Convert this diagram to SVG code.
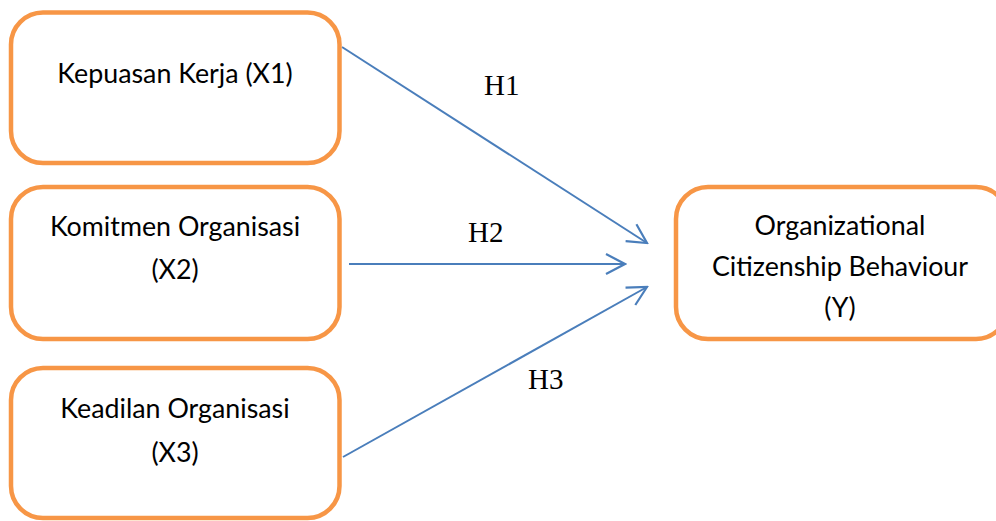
<svg xmlns="http://www.w3.org/2000/svg" width="996" height="521" viewBox="0 0 996 521">
<style>
.box{fill:#fff;stroke:#F79646;stroke-width:4.5}
.t{font-family:Lato,"Open Sans",sans-serif;font-size:26.8px;fill:#000;text-anchor:middle}
.h{font-family:"Liberation Serif","Times New Roman",serif;font-size:29px;fill:#000}
.c{stroke:#4A7EBB;stroke-width:2;fill:none}
</style>
<defs>
<marker id="arr" markerUnits="userSpaceOnUse" viewBox="-22 -12 24 24" markerWidth="24" markerHeight="24" refX="0" refY="0" orient="auto">
<path d="M-19,-10 L0,0 L-19,10" fill="none" stroke="#4A7EBB" stroke-width="2.2"/>
</marker>
</defs>
<g id="connectors">
<line class="c" x1="342" y1="47" x2="647" y2="243" marker-end="url(#arr)"/>
<line class="c" x1="349" y1="264" x2="625" y2="264" marker-end="url(#arr)"/>
<line class="c" x1="343" y1="457" x2="647" y2="287" marker-end="url(#arr)"/>
<text class="h" x="484" y="95">H1</text>
<text class="h" x="468" y="242">H2</text>
<text class="h" x="528" y="389">H3</text>
</g>
<g id="x1">
<rect class="box" x="11" y="12.5" width="328.5" height="150.5" rx="32"/>
<text class="t" x="175" y="83">Kepuasan Kerja (X1)</text>
</g>
<g id="x2">
<rect class="box" x="11" y="187" width="328.5" height="152" rx="32"/>
<text class="t" x="175" y="236">Komitmen Organisasi</text>
<text class="t" x="175" y="279">(X2)</text>
</g>
<g id="x3">
<rect class="box" x="11" y="368" width="328.5" height="150" rx="32"/>
<text class="t" x="175" y="418">Keadilan Organisasi</text>
<text class="t" x="175" y="462">(X3)</text>
</g>
<g id="y">
<rect class="box" x="676" y="187" width="332" height="152" rx="32"/>
<text class="t" x="840" y="235">Organizational</text>
<text class="t" x="840" y="276">Citizenship Behaviour</text>
<text class="t" x="840" y="317">(Y)</text>
</g>
</svg>
